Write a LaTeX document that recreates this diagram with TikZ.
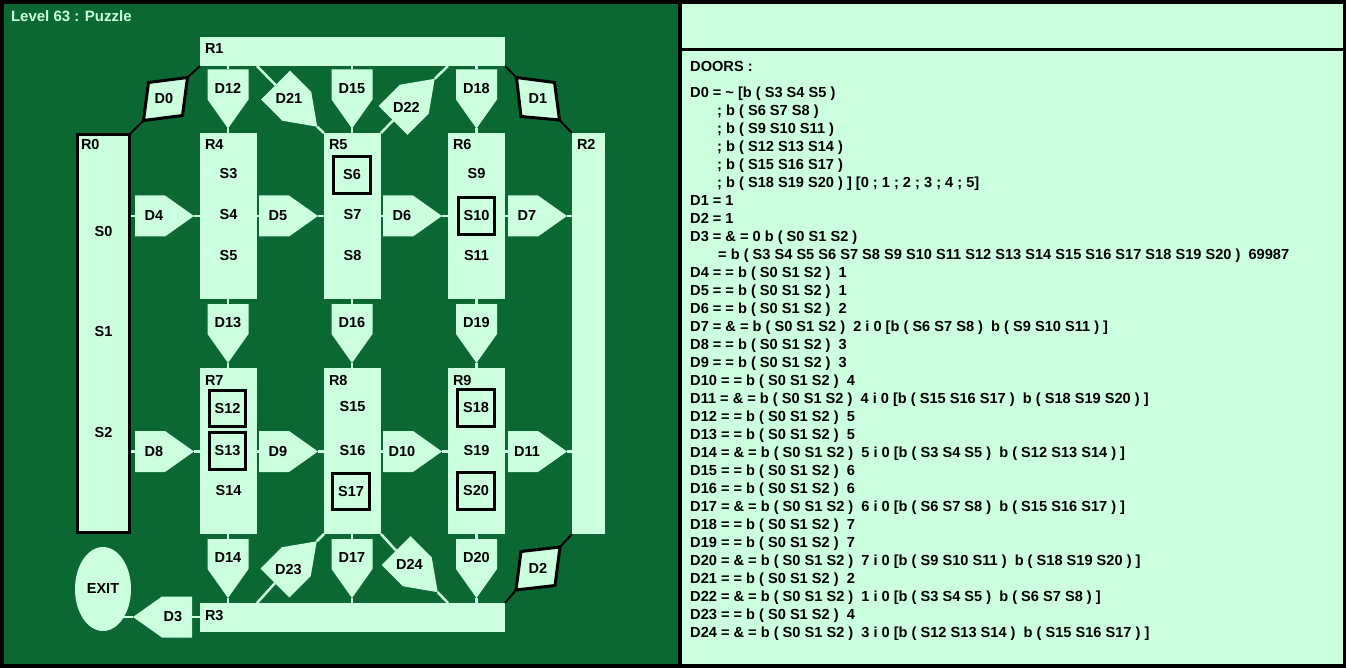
\documentclass[tikz,border=0pt]{standalone}
\usepackage{fontspec}
\setmainfont{Liberation Sans}
\usetikzlibrary{shapes.geometric}
\pgfdeclarelayer{back}
\pgfdeclarelayer{links}
\pgfsetlayers{back,links,main}
\definecolor{bggreen}{RGB}{11,104,50}
\definecolor{pale}{RGB}{204,255,221}
\tikzset{
  room/.style={fill=pale, draw=none, inner sep=0pt, outer sep=0pt, anchor=north west},
  lbl/.style={font=\fontsize{14.5}{17}\selectfont\bfseries, inner sep=0pt, outer sep=0pt, text=black},
  rlbl/.style={lbl, anchor=base west},
  sbox/.style={lbl, draw=black, line width=3pt, minimum width=36.5pt, minimum height=36.5pt},
  conn/.style={draw=pale, line width=2.5pt},
  bconn/.style={draw=black, line width=2pt},
  bdoor/.style={draw=black, fill=pale, line width=3pt},
  paneltext/.style={font=\fontsize{14.6}{18}\selectfont\bfseries, inner sep=0pt, anchor=base west, text=black},
}
\newcommand\mazedoor[5]{%
  \fill[pale, shift={(#2,#3)}, rotate=#4] (0,-20.5) -- (30,-20.5) -- (59,0) -- (30,20.5) -- (0,20.5) -- cycle;
  \path[shift={(#2,#3)}, rotate=#4] (0,0) coordinate (#1b) (59,0) coordinate (#1t) (19,0) node[lbl] (#1) {#5};
}
\begin{document}
\begin{tikzpicture}[x=1pt,y=-1pt]
\useasboundingbox (0,0) rectangle (1346,668);
\begin{pgfonlayer}{back}
  \fill[black] (0,0) rectangle (1346,668);
  \fill[bggreen] (4,4) rectangle (678,664);
  \fill[pale] (682,4) rectangle (1343,48.5);
  \fill[pale] (682,51.5) rectangle (1343,664);
\end{pgfonlayer}

\node[rlbl, text=pale, font=\fontsize{15}{18}\selectfont\bfseries] (title) at (11,21.5) {Level 63 : Puzzle};

% rooms
\node[room, draw=black, line width=3pt, minimum width=52pt, minimum height=398pt] (r0) at (77.5,134.5) {};
\node[room, minimum width=305pt, minimum height=29pt] (r1) at (200,37) {};
\node[room, minimum width=33pt, minimum height=401pt] (r2) at (572,133) {};
\node[room, minimum width=305pt, minimum height=29pt] (r3) at (200,603) {};
\node[room, minimum width=57pt, minimum height=166pt] (r4) at (200,133) {};
\node[room, minimum width=57pt, minimum height=166pt] (r5) at (324,133) {};
\node[room, minimum width=57pt, minimum height=166pt] (r6) at (448,133) {};
\node[room, minimum width=57pt, minimum height=166pt] (r7) at (200,368) {};
\node[room, minimum width=57pt, minimum height=166pt] (r8) at (324,368) {};
\node[room, minimum width=57pt, minimum height=166pt] (r9) at (448,368) {};

\node[rlbl] (r0l) at (81,150) {R0};
\node[rlbl] (r1l) at ([shift={(5,17)}]r1.north west) {R1};
\node[rlbl] (r2l) at ([shift={(5,17)}]r2.north west) {R2};
\node[rlbl] (r3l) at ([shift={(5,17)}]r3.north west) {R3};
\node[rlbl] (r4l) at ([shift={(5,17)}]r4.north west) {R4};
\node[rlbl] (r5l) at ([shift={(5,17)}]r5.north west) {R5};
\node[rlbl] (r6l) at ([shift={(5,17)}]r6.north west) {R6};
\node[rlbl] (r7l) at ([shift={(5,17)}]r7.north west) {R7};
\node[rlbl] (r8l) at ([shift={(5,17)}]r8.north west) {R8};
\node[rlbl] (r9l) at ([shift={(5,17)}]r9.north west) {R9};

% slots
\node[lbl] (s0) at (103.5,232) {S0};
\node[lbl] (s1) at (103.5,331.5) {S1};
\node[lbl] (s2) at (103.5,432.5) {S2};
\node[lbl] (s3) at (228.5,174) {S3};
\node[lbl] (s4) at (228.5,215) {S4};
\node[lbl] (s5) at (228.5,256) {S5};
\node[sbox] (s6) at (352,175) {S6};
\node[lbl] (s7) at (352.5,215) {S7};
\node[lbl] (s8) at (352.5,256) {S8};
\node[lbl] (s9) at (476.5,174) {S9};
\node[sbox] (s10) at (476.5,216) {S10};
\node[lbl] (s11) at (476.5,256) {S11};
\node[sbox] (s12) at (227.5,408.5) {S12};
\node[sbox] (s13) at (227.5,451) {S13};
\node[lbl] (s14) at (228.5,491) {S14};
\node[lbl] (s15) at (352.5,407) {S15};
\node[lbl] (s16) at (352.5,451) {S16};
\node[sbox] (s17) at (351,491.5) {S17};
\node[sbox] (s18) at (476,408) {S18};
\node[lbl] (s19) at (476.5,451) {S19};
\node[sbox] (s20) at (476,491) {S20};

% exit
\node[lbl, ellipse, fill=pale, minimum width=56pt, minimum height=84pt] (exit) at (103,589) {EXIT};

% doors
\mazedoor{d3}{192}{617}{180}{D3}
\mazedoor{d4}{135}{216}{0}{D4}
\mazedoor{d5}{259}{216}{0}{D5}
\mazedoor{d6}{383}{216}{0}{D6}
\mazedoor{d7}{508}{216}{0}{D7}
\mazedoor{d8}{135}{451.5}{0}{D8}
\mazedoor{d9}{259}{451.5}{0}{D9}
\mazedoor{d10}{383}{451.5}{0}{D10}
\mazedoor{d11}{508}{451.5}{0}{D11}
\mazedoor{d12}{228}{69.5}{-90}{D12}
\mazedoor{d13}{228}{304}{-90}{D13}
\mazedoor{d14}{228}{539}{-90}{D14}
\mazedoor{d15}{352}{69.5}{-90}{D15}
\mazedoor{d16}{352}{304}{-90}{D16}
\mazedoor{d17}{352}{539}{-90}{D17}
\mazedoor{d18}{476.5}{69.5}{-90}{D18}
\mazedoor{d19}{476.5}{304}{-90}{D19}
\mazedoor{d20}{476.5}{539}{-90}{D20}
\mazedoor{d21}{275.5}{85}{-45}{D21}
\mazedoor{d22}{393}{120.5}{45}{D22}
\mazedoor{d23}{275}{583}{45}{D23}
\mazedoor{d24}{396}{550.5}{-45}{D24}

% bordered doors
\draw[bdoor] (148.5,82.5) coordinate (d0p1) -- (187.5,77.5) coordinate (d0p2) -- (182.5,115.5) coordinate (d0p3) -- (143.5,120.5) coordinate (d0p4) -- cycle;
\node[lbl] (d0) at (164,99) {D0};
\draw[bdoor] (516.5,77.5) coordinate (d1p1) -- (554.5,82.5) coordinate (d1p2) -- (559.5,120) coordinate (d1p3) -- (521,116.5) coordinate (d1p4) -- cycle;
\node[lbl] (d1) at (538,99) {D1};
\draw[bdoor] (521,551.5) coordinate (d2p1) -- (560,547) coordinate (d2p2) -- (555,585.5) coordinate (d2p3) -- (516,590) coordinate (d2p4) -- cycle;
\node[lbl] (d2) at (538,568) {D2};

\begin{pgfonlayer}{links}
  \draw[conn] (d3b -| r3.west) -- (d3b) (d3t) -- (d3t -| exit.center);
  \draw[conn] (r0.east |- d4b) -- (d4b) (d4t) -- (d4t -| r4.west);
  \draw[conn] (d5b -| r4.east) -- (d5b) (d5t) -- (d5t -| r5.west);
  \draw[conn] (d6b -| r5.east) -- (d6b) (d6t) -- (d6t -| r6.west);
  \draw[conn] (d7b -| r6.east) -- (d7b) (d7t) -- (d7t -| r2.west);
  \draw[conn] (r0.east |- d8b) -- (d8b) (d8t) -- (d8t -| r7.west);
  \draw[conn] (d9b -| r7.east) -- (d9b) (d9t) -- (d9t -| r8.west);
  \draw[conn] (d10b -| r8.east) -- (d10b) (d10t) -- (d10t -| r9.west);
  \draw[conn] (d11b -| r9.east) -- (d11b) (d11t) -- (d11t -| r2.west);
  \draw[conn] (d12b |- r1.south) -- (d12b) (d12t) -- (d12t |- r4.north);
  \draw[conn] (d13b |- r4.south) -- (d13b) (d13t) -- (d13t |- r7.north);
  \draw[conn] (d14b |- r7.south) -- (d14b) (d14t) -- (d14t |- r3.north);
  \draw[conn] (d15b |- r1.south) -- (d15b) (d15t) -- (d15t |- r5.north);
  \draw[conn] (d16b |- r5.south) -- (d16b) (d16t) -- (d16t |- r8.north);
  \draw[conn] (d17b |- r8.south) -- (d17b) (d17t) -- (d17t |- r3.north);
  \draw[conn] (d18b |- r1.south) -- (d18b) (d18t) -- (d18t |- r6.north);
  \draw[conn] (d19b |- r6.south) -- (d19b) (d19t) -- (d19t |- r9.north);
  \draw[conn] (d20b |- r9.south) -- (d20b) (d20t) -- (d20t |- r3.north);
  \draw[conn] (r1.south -| r4.east) -- (d21b) (d21t) -- (r5.north west);
  \draw[conn] (r5.north east) -- (d22b) (d22t) -- (r1.south -| r6.west);
  \draw[conn] (r3.north -| r7.east) -- (d23b) (d23t) -- (r8.south west);
  \draw[conn] (r8.south east) -- (d24b) (d24t) -- (r3.north -| r9.west);
  \draw[bconn] (r1.south west) -- (d0p2) (d0p4) -- (r0.north east);
  \draw[bconn] (r1.south east) -- (d1p1) (d1p3) -- (r2.north west);
  \draw[bconn] (r3.north east) -- (d2p4) (d2p2) -- (r2.south west);
\end{pgfonlayer}

% door list
\node[paneltext] (doorshead) at (690,72) {DOORS :};
\foreach [count=\i from 0] \t in {%
  D0 = \textasciitilde{} [b ( S3 S4 S5 ),
  \hspace*{27pt}; b ( S6 S7 S8 ),
  \hspace*{27pt}; b ( S9 S10 S11 ),
  \hspace*{27pt}; b ( S12 S13 S14 ),
  \hspace*{27pt}; b ( S15 S16 S17 ),
  \hspace*{27pt}; b ( S18 S19 S20 ) ] [0 ; 1 ; 2 ; 3 ; 4 ; 5],
  D1 = 1,
  D2 = 1,
  D3 = \& = 0 b ( S0 S1 S2 ),
  \hspace*{28pt}= b ( S3 S4 S5 S6 S7 S8 S9 S10 S11 S12 S13 S14 S15 S16 S17 S18 S19 S20 )~~69987,
  D4 = = b ( S0 S1 S2 )~~1,
  D5 = = b ( S0 S1 S2 )~~1,
  D6 = = b ( S0 S1 S2 )~~2,
  D7 = \& = b ( S0 S1 S2 )~~2 i 0 [b ( S6 S7 S8 )~~b ( S9 S10 S11 ) ],
  D8 = = b ( S0 S1 S2 )~~3,
  D9 = = b ( S0 S1 S2 )~~3,
  D10 = = b ( S0 S1 S2 )~~4,
  D11 = \& = b ( S0 S1 S2 )~~4 i 0 [b ( S15 S16 S17 )~~b ( S18 S19 S20 ) ],
  D12 = = b ( S0 S1 S2 )~~5,
  D13 = = b ( S0 S1 S2 )~~5,
  D14 = \& = b ( S0 S1 S2 )~~5 i 0 [b ( S3 S4 S5 )~~b ( S12 S13 S14 ) ],
  D15 = = b ( S0 S1 S2 )~~6,
  D16 = = b ( S0 S1 S2 )~~6,
  D17 = \& = b ( S0 S1 S2 )~~6 i 0 [b ( S6 S7 S8 )~~b ( S15 S16 S17 ) ],
  D18 = = b ( S0 S1 S2 )~~7,
  D19 = = b ( S0 S1 S2 )~~7,
  D20 = \& = b ( S0 S1 S2 )~~7 i 0 [b ( S9 S10 S11 )~~b ( S18 S19 S20 ) ],
  D21 = = b ( S0 S1 S2 )~~2,
  D22 = \& = b ( S0 S1 S2 )~~1 i 0 [b ( S3 S4 S5 )~~b ( S6 S7 S8 ) ],
  D23 = = b ( S0 S1 S2 )~~4,
  D24 = \& = b ( S0 S1 S2 )~~3 i 0 [b ( S12 S13 S14 )~~b ( S15 S16 S17 ) ]%
}
  \node[paneltext] (line\i) at (690,{97.5+18*\i}) {\t};
\end{tikzpicture}
\end{document}
